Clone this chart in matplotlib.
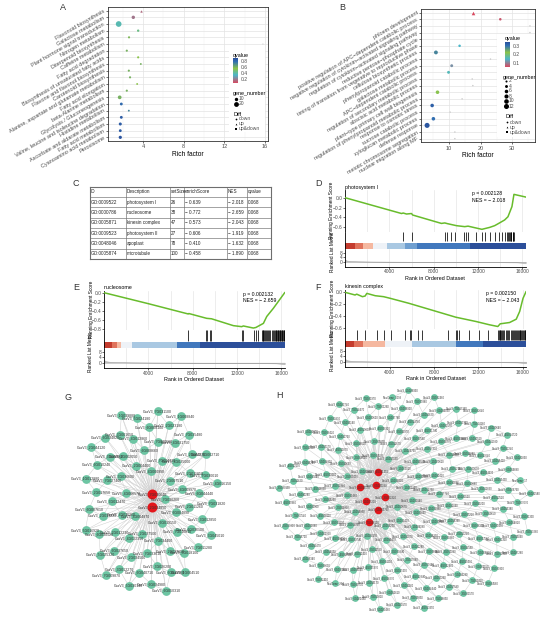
import numpy as np
import matplotlib
matplotlib.use('Agg')
import matplotlib.pyplot as plt
from matplotlib.colors import LinearSegmentedColormap, ListedColormap, Normalize
from matplotlib.collections import LineCollection
from matplotlib.cm import ScalarMappable

plt.rcParams['font.family'] = ['Liberation Sans', 'DejaVu Sans']

W, H = 550, 619

# ---------------- A: KEGG dot plot
kegg_terms = ['Flavonoid biosynthesis', 'Galactose metabolism', 'Plant hormone signal transduction',
              'Nitrogen metabolism', 'Diterpenoid biosynthesis', 'Caffeine metabolism',
              'Fatty acid degradation', 'Biosynthesis of unsaturated fatty acids',
              'Flavone and flavonol biosynthesis', 'Carotenoid biosynthesis',
              'Alanine, aspartate and glutamate metabolism', 'Fatty acid elongation',
              'beta-Alanine metabolism', 'Glycolysis / Gluconeogenesis',
              'Valine, leucine and isoleucine degradation', 'Histidine metabolism',
              'Ascorbate and aldarate metabolism', 'Fatty acid metabolism',
              'Cyanoamino acid metabolism', 'Peroxisome']
kegg_rich = [3.75, 3.04, 1.6, 3.52, 2.62, 15.8, 2.4, 3.52, 3.78, 2.6,
             2.72, 3.42, 2.4, 1.7, 1.86, 2.6, 1.86, 1.76, 1.76, 1.76]
kegg_q = [0.15, 0.18, 0.38, 0.45, 0.58, np.nan, 0.6, 0.55, 0.6, 0.6,
          0.6, 0.55, 0.6, 0.6, 0.8, 0.72, 0.85, 0.85, 0.85, 0.88]
kegg_genes = [5, 10, 28, 5, 4, 1, 4, 4, 3, 4, 4, 3, 4, 12, 7, 3, 7, 8, 7, 9]
kegg_diff = ['up'] + ['down'] * 19

# ---------------- B: GO dot plot
go_terms = ['phloem development', 'positive regulation of APC\u2212dependent catabolic process',
            'negative regulation of cytokinin\u2212activated signaling pathway',
            'regulation of cytokinin\u2212activated signaling pathway',
            'reductive pentose\u2212phosphate cycle',
            'timing of transition from vegetative to reproductive phase',
            'cellulose biosynthetic process', 'phenylpropanoid catabolic process',
            'galactose metabolic process', 'APC\u2212dependent catabolic process',
            'regulation of secondary metabolic process', 'abscisic acid metabolic process',
            'plant\u2212type primary cell wall biogenesis',
            'regulation of phenylpropanoid metabolic process', 'response to osmotic stress',
            'sucrose catabolic process', 'xyloglucan metabolic process', 'defense response',
            'meiotic chromosome segregation', 'nuclear migration along MF']
go_rich = [17.5, 26.2, 35.6, 35.6, 35.6, 13.3, 5.8, 23.1, 10.8, 9.8,
           17.3, 17.5, 6.3, 14.1, 4.6, 10.3, 5.0, 3.0, 11.8, 11.8]
go_q = [0.06, 0.07, np.nan, np.nan, np.nan, 0.15, 0.28, np.nan, 0.12, 0.16,
        np.nan, np.nan, 0.22, np.nan, 0.32, np.nan, 0.30, 0.33, np.nan, np.nan]
go_genes = [6, 3, 1, 1, 1, 3, 7, 1, 4, 4, 1, 1, 6, 1, 6, 1, 6, 12, 1, 1]
go_diff = ['up'] + ['down'] * 19

# ---------------- C: GSEA table
tab_id = ['GO:0009522', 'GO:0000786', 'GO:0005871', 'GO:0009523', 'GO:0048046', 'GO:0005874']
tab_desc = ['photosystem I', 'nucleosome', 'kinesin complex', 'photosystem II', 'apoplast', 'microtubule']
tab_size = [26, 38, 47, 27, 78, 100]
tab_es = [-0.639, -0.772, -0.573, -0.606, -0.410, -0.458]
tab_nes = [-2.018, -2.659, -2.043, -1.919, -1.632, -1.890]
tab_q = [0.068, 0.068, 0.068, 0.068, 0.068, 0.068]

# ---------------- D-F: GSEA running scores
n_genes = 16300
metric_rank = [0, 150, 500, 1200, 2500, 4500, 7000, 10000, 13000, 15500, 16300]
metric_val = [2.0, 1.1, 0.7, 0.45, 0.25, 0.1, 0.0, -0.1, -0.25, -0.45, -1.0]

d_rank = [0, 5100, 5250, 5550, 6000, 6100, 8700, 9000, 9250, 10050, 10800, 11100, 11700,
          12350, 12600, 13050, 13500, 13860, 14400, 14700, 15060, 15240, 16300]
d_es = [0.0, -0.32, -0.31, -0.33, -0.32, -0.35, -0.52, -0.51, -0.525, -0.565, -0.585, -0.575,
        -0.606, -0.639, -0.625, -0.60, -0.565, -0.52, -0.45, -0.385, -0.18, 0.067, 0.013]
d_hits = [5250, 6000, 9000, 9240, 9600, 9900, 10740, 10950, 11100, 11820, 12400, 12600, 13050,
          13500, 13860, 14160, 14400, 14640, 14700, 14760, 14880, 14940, 15000, 15120, 15180, 15240]
d_bands = [0, 900, 1650, 2520, 3760, 5400, 6460, 11260, 16300]
d_levels = [0, 1, 2, 3, 4, 5, 6, 7]

e_rank = [0, 4000, 7600, 7650, 9260, 9700, 11670, 12420, 12570, 13470, 13700, 14380, 14680,
          15280, 15700, 16000, 16300]
e_es = [0.0, -0.24, -0.465, -0.455, -0.56, -0.57, -0.72, -0.742, -0.727, -0.772, -0.76, -0.67,
        -0.52, -0.34, -0.2, -0.1, 0.0]
e_hits = [7610, 9200, 9320, 9560, 9680, 12420, 12570, 13530, 13710, 13920, 14230, 14300, 14380,
          14450, 14530, 14600, 14680, 14830, 14900, 14980, 15130, 15280, 15350, 15430, 15500,
          15560, 15620, 15680, 15740, 15800, 15860, 15920, 15980, 16040, 16100, 16160, 16220, 16280]
e_bands = [0, 700, 1140, 1500, 2500, 6560, 8660, 16300]
e_levels = [0, 1, 2, 3, 4, 6, 7]

f_rank = [0, 880, 1030, 1545, 1790, 1940, 2700, 3450, 4060, 5730, 7545, 9970, 11790, 13000,
          13760, 13970, 14820, 15420, 15730, 16030, 16300]
f_es = [0.0, -0.044, -0.03, -0.072, -0.061, -0.017, -0.056, -0.072, -0.10, -0.183, -0.283,
        -0.417, -0.489, -0.544, -0.573, -0.528, -0.506, -0.45, -0.32, -0.10, 0.01]
f_hits = [1030, 1790, 2850, 3450, 4150, 5360, 5880, 5970, 6580, 6940, 9270, 9970, 10120, 10270,
          11120, 12090, 12850, 13760, 13820, 13910, 13980, 14060, 14120, 14250, 14360, 14480,
          14560, 14670, 14800, 14970, 15050, 15100, 15180, 15300, 15420, 15500, 15580, 15650,
          15730, 15800, 15880, 15950, 16030, 16100, 16180, 16250, 16280]
f_bands = [0, 800, 1640, 3600, 6030, 9970, 12400, 16300]
f_levels = [0, 1, 2, 3, 4, 6, 7]

pvals = [0.002128, 0.002132, 0.002150]

# ---------------- G, H: co-expression networks
g_hubs = ['7G030640', '2G034850']
g_nodes = """7G030260 4G004870 4G000990 6G019150 4G006570 2G007510 2G037500 2G004400 6G004890
4G026260 7G004730 7G034400 3G036600 4G009970 4G022350 6G008660 7G016810 3G012470 4G035000
7G033610 2G002050 2G011260 3G012230 7G020560 2G027650 7G027400 2G011850 2G034500 4G012860
6G036100 2G013220 4G031750 3G026200 3G006660 6G044440 6G037650 6G008100 3G018100 2G017650
2G001220 6G040710 3G001650 3G012850 6G030520 2G023180 6G012560 6G010240 7G030010 3G012270
5G024180 7G011280 6G007610 7G035480 6G034980 6G034820 7G031820 5G025320 7G031100 1G004510
1G012880 5G002710 5G030140 1G039880 3G045010 5G016920 1G008840 6G050310 2G044120 4G016150
7G009870""".split()

h_hubs = ['3G002320', '5G005760', '6G041190', '1G007200', '4G021450', '7G028100', '2G015570']
h_hub_index = [4, 9, 12, 17, 20, 22, 25]
h_nodes = """1G000140 1G000670 1G001230 1G001890 1G002750 1G003410 1G004020 1G004960 1G005530 1G006180
1G007740 1G008250 1G009010 1G009860 1G010420 1G011370 1G012090 1G013550 1G014230 1G015800
1G016470 1G017120 1G018390 1G019940 1G020610 1G021280 1G022850 1G023520 1G024170 1G025730
2G000380 2G001460 2G002190 2G003840 2G004570 2G005220 2G006790 2G007330 2G008960 2G009410
2G010880 2G011520 2G012670 2G013240 2G014910 2G016450 2G017080 2G018630 2G019200 2G020740
3G000560 3G001180 3G002940 3G003670 3G004210 3G005890 3G006350 3G007020 3G008770 3G009140
3G010690 3G011830 3G012410 3G013970 3G014560 3G015230 3G016880 3G017490 3G018020 3G019650
4G000290 4G001740 4G002460 4G003080 4G004630 4G005370 4G006920 4G007580 4G008110 4G009690
4G010340 4G011870 4G012520 4G013190 4G014760 4G015430 4G016090 4G017640 4G018270 4G019830
5G000450 5G001920 5G002570 5G003260 5G004810 5G005490 5G006030 5G007780 5G008340 5G009960
5G010510 5G011160 5G012730 5G013380 5G014050 5G015620 5G016290 5G017840 5G018410 5G019170
6G000620 6G001350 6G002080 6G003790 6G004440 6G005170 6G006760 6G007390 6G008920 6G009550
6G010280 6G011930 6G012610 6G013140 6G014820 6G015470 6G016030 6G017590 6G018240 6G019880
7G000730 7G001260 7G002990 7G003540 7G004180 7G005850 7G006420 7G007070 7G008630 7G009380
7G010950 7G011620 7G012240 7G013810 7G014470 7G015090 7G016720 7G017360 7G018850 7G019520
NewGene_17 NewGene_254 NewGene_1093 3G020310 4G020980 5G020640 6G020170 7G020830 2G021390 1G026340
2G022460 3G021570 4G022190 5G021830 6G021460 7G021970 1G027280 2G023810 3G022640 4G023350
5G022970 6G022580 7G022410 1G028930 2G024560 3G023190 4G024720 5G023460 6G023740 7G023260""".split()


fig = plt.figure(figsize=(W / 100, H / 100), dpi=100)


def px_axes(x0, y0, x1, y1):
    return fig.add_axes([x0 / W, 1 - y1 / H, (x1 - x0) / W, (y1 - y0) / H])


def px_text(x, y, s, **kw):
    fig.text(x / W, 1 - y / H, s, **kw)


qcmap = LinearSegmentedColormap.from_list(
    'q', [(0, '#D9485F'), (0.32, '#4BB7CB'), (0.58, '#8BC34A'), (0.85, '#3170B2'), (1, '#2A4F9C')])
shape_of = {'down': 'o', 'up': '^', 'up&down': 's'}
grey_txt = '#4D4D4D'


def dot_panel(box, terms, rich, q, genes, diff, xlim, xticks, minor, qnorm, size_k):
    ax = px_axes(*box)
    n = len(terms)
    ypos = np.arange(n)[::-1]
    rich = np.array(rich)
    genes = np.array(genes)
    cols = ['#C8C8C8' if np.isnan(v) else qcmap(qnorm(v)) for v in q]
    for shp, m in shape_of.items():
        idx = [i for i in range(n) if diff[i] == shp]
        if idx:
            ax.scatter(rich[idx], ypos[idx], s=genes[idx] * size_k, c=[cols[i] for i in idx],
                       marker=m, linewidths=0, zorder=3)
    ax.set_xlim(xlim)
    ax.set_ylim(-0.55, n - 0.45)
    ax.set_xticks(xticks)
    ax.set_xticks(minor, minor=True)
    ax.set_yticks(ypos)
    ax.set_yticklabels(terms, rotation=30, ha='right', va='center', rotation_mode='anchor',
                       fontsize=3.7, color=grey_txt)
    ax.grid(True, which='major', color='#E3E3E3', lw=0.5)
    ax.grid(True, which='minor', axis='x', color='#F0F0F0', lw=0.3)
    ax.set_axisbelow(True)
    ax.tick_params(length=1.5, width=0.4, pad=1, labelsize=4, labelcolor=grey_txt)
    ax.tick_params(which='minor', length=0)
    for s in ax.spines.values():
        s.set_color('#333333')
        s.set_linewidth(0.6)
    ax.set_xlabel('Rich factor', fontsize=4.8, labelpad=1)
    return ax


def dot_legend(box, cbar_box, qnorm, qticks, title_y, size_vals, size_k, size_y, size_x,
               diff_y, diff_x):
    x0, y0, x1, y1 = box
    lg = px_axes(x0, y0, x1, y1)
    lg.set_xlim(x0, x1)
    lg.set_ylim(y1, y0)
    lg.set_xticks([])
    lg.set_yticks([])
    for s in lg.spines.values():
        s.set_visible(False)
    cx0 = cbar_box[0]
    lg.text(cx0, title_y[0], 'qvalue', fontsize=3.9, va='center')
    cax = px_axes(*cbar_box)
    cb = fig.colorbar(ScalarMappable(norm=qnorm, cmap=qcmap), cax=cax, ticks=qticks)
    cb.outline.set_visible(False)
    cax.tick_params(length=1, width=0.4, color='white', pad=1, labelsize=3.6, labelcolor=grey_txt)
    lg.text(size_x - 3, title_y[1], 'gene_number', fontsize=3.9, va='center')
    for v, yy in zip(size_vals, size_y):
        lg.scatter(size_x, yy, s=v * size_k, color='black', linewidths=0)
        lg.text(size_x + 3, yy, str(v), fontsize=3.6, va='center', color=grey_txt)
    lg.text(diff_x - 2, title_y[2], 'Diff', fontsize=3.9, va='center')
    for (lab, m), yy in zip(shape_of.items(), diff_y):
        lg.scatter(diff_x, yy, s=1.6, color='black', marker=m, linewidths=0)
        lg.text(diff_x + 3, yy, lab, fontsize=3.6, va='center', color=grey_txt)


# A
qnormA = Normalize(0.07, 0.9)
dot_panel((108, 7, 268, 141), kegg_terms, kegg_rich, kegg_q, kegg_genes, kegg_diff,
          (0.55, 16.3), [4, 8, 12, 16], [2, 6, 10, 14], qnormA, 0.6)
dot_legend((229, 51, 265, 132), (233, 58, 238, 83), qnormA, [0.2, 0.4, 0.6, 0.8],
           (55, 93, 115), [10, 20], 0.6, [99, 103.5], 236, [119, 123.7, 128.7], 235.5)

# B
qnormB = Normalize(0.06, 0.34)
dot_panel((421, 9, 535, 142.3), go_terms, go_rich, go_q, go_genes, go_diff,
          (1.07, 37.2), [10, 20, 30], [5, 15, 25, 35], qnormB, 1.1)
dot_legend((497, 34, 535, 137), (505, 42, 510, 67), qnormB, [0.1, 0.2, 0.3],
           (38.5, 77, 117), [2, 4, 6, 8, 10, 12], 1.1, [81, 86, 91, 96, 101, 106.5], 506,
           [122.5, 127.5, 132.5], 507)

# C table
axC = px_axes(90, 186.7, 271, 259)
axC.set_xlim(90, 271)
axC.set_ylim(259, 186.7)
axC.axis('off')
col_edges = [90, 126, 170, 184.3, 226.7, 247.3, 270.7]
header = ['ID', 'Description', 'setSize', 'enrichScore', 'NES', 'qvalue']
cells = [header] + [[tab_id[i], tab_desc[i], str(tab_size[i]),
                     '\u2212 %.3f' % abs(tab_es[i]), '\u2212 %.3f' % abs(tab_nes[i]),
                     '%.3f' % tab_q[i]] for i in range(len(tab_id))]
row_h = (259 - 186.7) / len(cells)
for r in range(len(cells) + 1):
    yy = 186.7 + r * row_h
    lw = 0.8 if r in (0, len(cells)) else 0.45
    axC.plot([col_edges[0], col_edges[-1]], [yy, yy], color='#6E6E6E', lw=lw, clip_on=False)
for c, xx in enumerate(col_edges):
    lw = 0.8 if c in (0, len(col_edges) - 1) else 0.45
    axC.plot([xx, xx], [186.7, 259], color='#6E6E6E', lw=lw, clip_on=False)
for r, row in enumerate(cells):
    for c, txt in enumerate(row):
        axC.text(col_edges[c] + 0.9, 186.7 + (r + 0.5) * row_h, txt, fontsize=3.3,
                 va='center', ha='left', color='#222222')

# D-F GSEA plots
band_cmap = ListedColormap(['#C43C2E', '#E0735C', '#F5B8A0', '#EEF2F7', '#A9C8E2',
                            '#6F9FD0', '#4178BD', '#2C4F9A'])
es_green = '#68BC2C'


def minus(v):
    return ('%.1f' % v).replace('-', '\u2212')


def gsea_panel(x0, x1, ys, es_rank, es_val, hits, es_ylim, es_ticks, bands, levels,
               title, pval, nes, ptxt_x):
    y_top, y_es, y_hit, y_bar0, y_bar1, y_bot = ys
    ax1 = px_axes(x0, y_top, x1, y_es)
    for xv in range(2000, n_genes, 2000):
        ax1.axvline(xv, color='#E6E6E6', lw=0.5, zorder=0)
    ax1.plot(es_rank, es_val, color=es_green, lw=1.1, zorder=3)
    ax1.set_xlim(0, n_genes)
    ax1.set_ylim(es_ylim)
    ax1.set_xticks([])
    ax1.set_yticks(es_ticks)
    ax1.set_yticklabels([minus(v) for v in es_ticks])
    ax1.tick_params(length=1.2, width=0.4, pad=0.8, labelsize=3.5, labelcolor=grey_txt)
    for k in ('top', 'right', 'bottom'):
        ax1.spines[k].set_visible(False)
    ax1.spines['left'].set_linewidth(0.6)
    px_text(x0, y_top - 0.8, title, fontsize=3.8, va='bottom', ha='left')
    px_text(ptxt_x, y_top + 3.5, 'p = %.6f' % pval, fontsize=3.7, va='center', ha='left')
    px_text(ptxt_x, y_top + 10.0, 'NES = \u2212 %.3f' % abs(nes), fontsize=3.7,
            va='center', ha='left')

    ax2 = px_axes(x0, y_es, x1, y_bar1)
    ax2.set_xlim(0, n_genes)
    ax2.set_ylim(y_bar1, y_es)
    ax2.vlines(hits, y_es + 0.3, y_hit, color='black', lw=0.55)
    for i, lev in enumerate(levels):
        ax2.fill_between([bands[i], bands[i + 1]], y_bar0, y_bar1, color=band_cmap(lev), lw=0)
    ax2.set_xticks([])
    ax2.set_yticks([])
    for k in ('top', 'right', 'bottom'):
        ax2.spines[k].set_visible(False)
    ax2.spines['left'].set_linewidth(0.6)

    ax3 = px_axes(x0, y_bar1 + 0.8, x1, y_bot)
    for xv in range(2000, n_genes, 2000):
        ax3.axvline(xv, color='#E6E6E6', lw=0.5, zorder=0)
    ax3.fill_between(metric_rank, 0, metric_val, color='#BDBDBD', lw=0.4, edgecolor='#A8A8A8')
    ax3.set_xlim(0, n_genes)
    ax3.set_ylim(-4.2, 10.8)
    ax3.set_yticks([0, 4, 8])
    ax3.set_xticks([4000, 8000, 12000, 16000])
    ax3.tick_params(length=1.2, width=0.4, pad=0.8, labelsize=3.5, labelcolor=grey_txt)
    for k in ('top', 'right'):
        ax3.spines[k].set_visible(False)
    ax3.spines['left'].set_linewidth(0.6)
    ax3.spines['bottom'].set_linewidth(0.6)
    ax3.set_xlabel('Rank in Ordered Dataset', fontsize=3.9, labelpad=0.8)
    px_text(x0 - 13, (y_top + y_es) / 2 - 1, 'Running Enrichment Score', fontsize=3.4,
            rotation=90, ha='center', va='center')
    px_text(x0 - 13, (y_es + y_bot) / 2 + 3, 'Ranked List Metric', fontsize=3.4,
            rotation=90, ha='center', va='center')


gsea_panel(345, 525.7, (190.5, 231.7, 240.8, 243.0, 248.5, 266.7), d_rank, d_es, d_hits,
           (-0.687, 0.145), [0.0, -0.2, -0.4, -0.6], d_bands, d_levels,
           tab_desc[0], pvals[0], tab_nes[0], 471.5)
gsea_panel(104, 284.7, (291, 330, 341, 342.3, 347.5, 368.3), e_rank, e_es, e_hits,
           (-0.815, 0.037), [0.0, -0.2, -0.4, -0.6, -0.8], e_bands, e_levels,
           tab_desc[1], pvals[1], tab_nes[1], 243)
gsea_panel(345.3, 526, (290, 329.3, 340, 341, 346.7, 367.3), f_rank, f_es, f_hits,
           (-0.62, 0.04), [0.0, -0.2, -0.4, -0.6], f_bands, f_levels,
           tab_desc[2], pvals[2], tab_nes[2], 485.5)


# G, H networks
node_green = '#6DC5A3'
hub_red = '#E3161B'


def sunflower(n, cx, cy, rx, ry, r0=0.0):
    k = np.arange(n)
    r = np.sqrt(r0 ** 2 + (1 - r0 ** 2) * (k + 0.5) / n)
    th = k * np.pi * (3 - np.sqrt(5))
    return np.column_stack([cx + rx * r * np.cos(th), cy + ry * r * np.sin(th)])


def nearest(pos, i, k, pool):
    d = np.hypot(*(pos[pool] - pos[i]).T)
    order = np.argsort(d)
    return [pool[j] for j in order if pool[j] != i][:k]


def label(name):
    return name if name.startswith('New') else 'CsaV3_' + name


def draw_network(ax, pos, names, hub_idx, edges, s_node, s_hub, fs):
    segs = [[pos[a], pos[b]] for a, b in edges]
    ax.add_collection(LineCollection(segs, colors='#CFCFCF', linewidths=0.35, zorder=1))
    is_hub = np.zeros(len(pos), bool)
    is_hub[hub_idx] = True
    ax.scatter(pos[~is_hub, 0], pos[~is_hub, 1], s=s_node, color=node_green, linewidths=0, zorder=2)
    ax.scatter(pos[is_hub, 0], pos[is_hub, 1], s=s_hub, color=hub_red, linewidths=0, zorder=2)
    for (x, y), nm in zip(pos, names):
        ax.text(x, y, label(nm), fontsize=fs, ha='center', va='center', color='#333333', zorder=3)


# G
axG = px_axes(55, 392, 275, 619)
axG.set_xlim(55, 275)
axG.set_ylim(619, 392)
axG.axis('off')
g_per = sunflower(len(g_nodes), 149, 499, 70, 97, r0=0.22)
nh = len(g_hubs)
g_hub_pos = np.column_stack([np.full(nh, 152.0), 500.5 + (np.arange(nh) - (nh - 1) / 2) * 13])
g_pos = np.vstack([g_hub_pos, g_per])
g_names = g_hubs + g_nodes
g_hub_idx = list(range(nh))
g_edges = set()
per_idx = list(range(nh, len(g_pos)))
for i in per_idx:
    for h in g_hub_idx:
        g_edges.add((h, i))
    for j in nearest(g_pos, i, 2, per_idx):
        g_edges.add(tuple(sorted((i, j))))
draw_network(axG, g_pos, g_names, g_hub_idx, sorted(g_edges), 40, 52, 2.5)

# H
axH = px_axes(275, 380, 550, 619)
axH.set_xlim(275, 550)
axH.set_ylim(619, 380)
axH.axis('off')
n_h = len(h_nodes) + len(h_hubs)
h_pos = sunflower(n_h, 405, 500, 128, 112)
h_names = []
it_nodes = iter(h_nodes)
it_hubs = iter(h_hubs)
for i in range(n_h):
    h_names.append(next(it_hubs) if i in h_hub_index else next(it_nodes))
all_idx = list(range(n_h))
h_edges = set()
for i in all_idx:
    for j in nearest(h_pos, i, 2, all_idx):
        h_edges.add(tuple(sorted((i, j))))
    if i not in h_hub_index:
        h_edges.add(tuple(sorted((i, nearest(h_pos, i, 1, h_hub_index)[0]))))
for hb in h_hub_index:
    d = np.hypot(*(h_pos - h_pos[hb]).T)
    for j in np.where(d < 62)[0]:
        if j != hb:
            h_edges.add(tuple(sorted((hb, int(j)))))
draw_network(axH, h_pos, h_names, h_hub_index, sorted(h_edges), 24, 30, 1.9)

# panel letters
for letter, (x, y) in zip('ABCDEFGH', [(63, 8), (342, 8), (76, 183), (318, 183), (76, 287),
                                        (318, 287), (68, 397), (280, 396)]):
    px_text(x, y, letter, fontsize=6.5, ha='center', va='center', color='#333333')

fig.savefig('out.png', dpi=100)
